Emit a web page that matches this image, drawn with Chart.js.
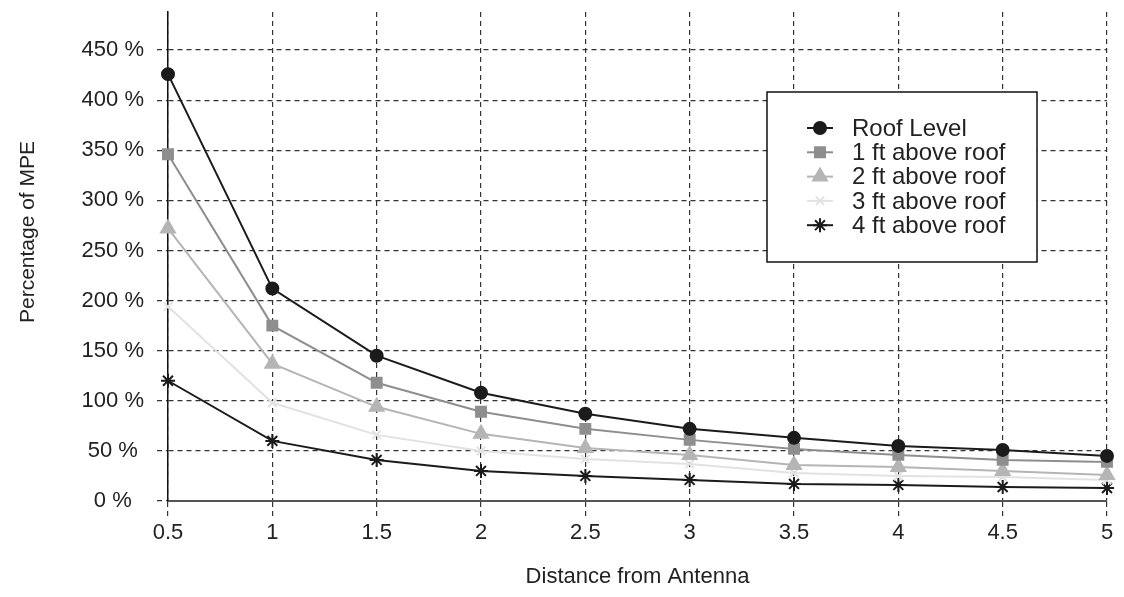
<!DOCTYPE html>
<html>
<head>
<meta charset="utf-8">
<script src="https://cdn.jsdelivr.net/npm/chart.js@4/dist/chart.umd.min.js"></script>
<style>
  body { margin: 0; background: #fff; }
  #wrap { width: 1124px; height: 597px; }
</style>
</head>
<body>
<div id="wrap"><canvas id="mpeChart" width="1124" height="597"></canvas></div>
<script>
// distances from antenna (x axis)
var distances = ['0.5', '1', '1.5', '2', '2.5', '3', '3.5', '4', '4.5', '5'];

// percentage of MPE per height
var roofLevel = [426, 212, 145, 108, 87, 72, 63, 55, 51, 45];
var oneFt     = [346, 175, 118, 89, 72, 61, 52, 46, 41, 39];
var twoFt     = [272, 137, 94, 67, 53, 46, 36, 34, 30, 26];
var threeFt   = [194, 98, 66, 50, 42, 37, 28, 25, 24, 21];
var fourFt    = [120, 60, 41, 30, 25, 21, 17, 16, 14, 13];

var seriesNames = ['Roof Level', '1 ft above roof', '2 ft above roof', '3 ft above roof', '4 ft above roof'];
var yTicks = [0, 50, 100, 150, 200, 250, 300, 350, 400, 450];

var FONT = 'Liberation Sans, Arial, Helvetica, sans-serif';
var TEXT = '#222';

function makeSet(label, data, color, style, radius) {
    return {
        label: label,
        data: data,
        borderColor: color,
        backgroundColor: color,
        borderWidth: 2,
        tension: 0,
        pointStyle: style,
        pointRadius: radius,
        pointBorderColor: color,
        pointBackgroundColor: color,
        pointBorderWidth: 2,
        clip: false
    };
}

// legend box inside the plot + rotated y title
var extras = {
    id: 'extras',
    afterDraw: function(chart) {
        var ctx = chart.ctx;
        var area = chart.chartArea;

        // y axis title
        ctx.save();
        ctx.translate(28, 232);
        ctx.rotate(-Math.PI / 2);
        ctx.font = '21px ' + FONT;
        ctx.fillStyle = TEXT;
        ctx.textAlign = 'center';
        ctx.textBaseline = 'middle';
        ctx.fillText('Percentage of MPE', 0, 0);
        ctx.restore();

        // legend
        var bx = area.right - 340, by = area.top + 80, bw = 270, bh = 170;
        ctx.save();
        ctx.fillStyle = '#fff';
        ctx.fillRect(bx, by, bw, bh);
        ctx.strokeStyle = '#111';
        ctx.lineWidth = 1.5;
        ctx.strokeRect(bx, by, bw, bh);
        ctx.font = '24px ' + FONT;
        ctx.textBaseline = 'middle';
        chart.data.datasets.forEach(function(ds, i) {
            var cy = by + 36 + i * 24.3;
            ctx.strokeStyle = ds.borderColor;
            ctx.lineWidth = 2;
            ctx.beginPath();
            ctx.moveTo(bx + 40, cy);
            ctx.lineTo(bx + 66, cy);
            ctx.stroke();
            ctx.fillStyle = ds.borderColor;
            Chart.helpers.drawPoint(ctx, {
                pointStyle: ds.pointStyle,
                radius: ds.pointRadius,
                borderWidth: 2,
                rotation: 0
            }, bx + 53, cy);
            ctx.fillStyle = TEXT;
            ctx.fillText(ds.label, bx + 85, cy + 1);
        });
        ctx.restore();
    }
};

var ctx = document.getElementById('mpeChart').getContext('2d');
var chart = new Chart(ctx, {
    type: 'line',
    data: {
        labels: distances,
        datasets: [
            makeSet(seriesNames[0], roofLevel, '#1b1b1b', 'circle', 6),
            makeSet(seriesNames[1], oneFt, '#8e8e8e', 'rect', 7),
            makeSet(seriesNames[2], twoFt, '#b5b5b5', 'triangle', 8),
            makeSet(seriesNames[3], threeFt, '#e2e2e2', 'crossRot', 6),
            makeSet(seriesNames[4], fourFt, '#1b1b1b', 'star', 7)
        ]
    },
    options: {
        responsive: false,
        animation: false,
        devicePixelRatio: 1,
        layout: { padding: { top: 12, right: 17, left: 0, bottom: 0 } },
        plugins: {
            legend: { display: false },
            tooltip: { enabled: false }
        },
        scales: {
            x: {
                type: 'category',
                offset: false,
                afterFit: function(scale) { scale.height = 96; },
                grid: {
                    color: '#333',
                    lineWidth: 1.2,
                    tickBorderDash: [5, 4],
                    tickLength: 16,
                    drawTicks: true
                },
                border: { display: true, color: '#555', width: 2, dash: [5, 4] },
                ticks: {
                    color: TEXT,
                    font: { family: FONT, size: 22 },
                    padding: 3,
                    maxRotation: 0,
                    autoSkip: false
                },
                title: {
                    display: true,
                    text: 'Distance from Antenna',
                    color: TEXT,
                    font: { family: FONT, size: 22 },
                    padding: { top: 0, bottom: 7 }
                }
            },
            y: {
                min: 0,
                max: 488,
                afterFit: function(scale) {
                    scale.width = 168;
                    scale.paddingTop = 0;
                    scale.paddingBottom = 0;
                },
                afterBuildTicks: function(scale) {
                    scale.ticks = yTicks.map(function(v) { return { value: v }; });
                },
                grid: {
                    color: '#333',
                    lineWidth: 1.2,
                    tickBorderDash: [5, 4],
                    tickLength: 11,
                    drawTicks: true
                },
                border: { display: true, color: '#111', width: 1.5, dash: [5, 4] },
                ticks: {
                    color: TEXT,
                    font: { family: FONT, size: 22 },
                    crossAlign: 'center',
                    padding: 13,
                    callback: function(v) { return v + ' %'; }
                }
            }
        }
    },
    plugins: [extras]
});
</script>
</body>
</html>
